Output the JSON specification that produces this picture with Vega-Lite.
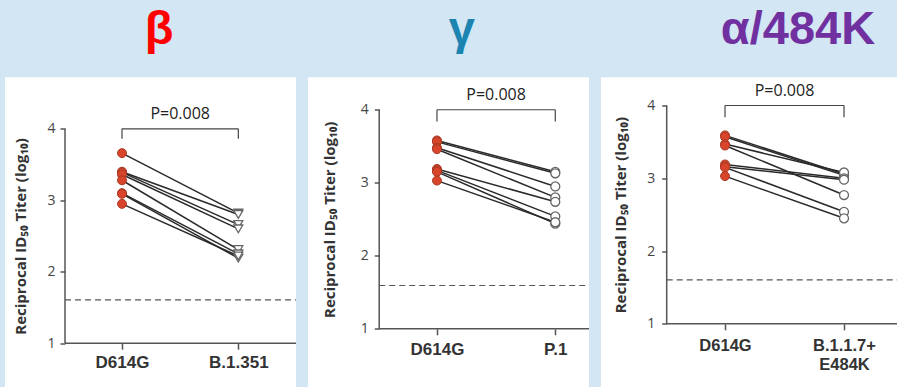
{
  "$schema": "https://vega.github.io/schema/vega-lite/v6.json",
  "background": "#D2E6F4",
  "padding": {"left": 5, "top": 5.5, "right": 0, "bottom": 0},
  "spacing": 11,
  "datasets": {
    "pts": [
      {"panel": "beta", "donor": 1, "strain": "D614G", "value": 3.66}, {"panel": "beta", "donor": 1, "strain": "B.1.351", "value": 2.82},
      {"panel": "beta", "donor": 2, "strain": "D614G", "value": 3.40}, {"panel": "beta", "donor": 2, "strain": "B.1.351", "value": 2.80},
      {"panel": "beta", "donor": 3, "strain": "D614G", "value": 3.39}, {"panel": "beta", "donor": 3, "strain": "B.1.351", "value": 2.66},
      {"panel": "beta", "donor": 4, "strain": "D614G", "value": 3.36}, {"panel": "beta", "donor": 4, "strain": "B.1.351", "value": 2.60},
      {"panel": "beta", "donor": 5, "strain": "D614G", "value": 3.28}, {"panel": "beta", "donor": 5, "strain": "B.1.351", "value": 2.31},
      {"panel": "beta", "donor": 6, "strain": "D614G", "value": 3.10}, {"panel": "beta", "donor": 6, "strain": "B.1.351", "value": 2.25},
      {"panel": "beta", "donor": 7, "strain": "D614G", "value": 3.09}, {"panel": "beta", "donor": 7, "strain": "B.1.351", "value": 2.19},
      {"panel": "beta", "donor": 8, "strain": "D614G", "value": 2.95}, {"panel": "beta", "donor": 8, "strain": "B.1.351", "value": 2.22},
      {"panel": "gamma", "donor": 1, "strain": "D614G", "value": 3.58}, {"panel": "gamma", "donor": 1, "strain": "P.1", "value": 3.15},
      {"panel": "gamma", "donor": 2, "strain": "D614G", "value": 3.56}, {"panel": "gamma", "donor": 2, "strain": "P.1", "value": 3.13},
      {"panel": "gamma", "donor": 3, "strain": "D614G", "value": 3.48}, {"panel": "gamma", "donor": 3, "strain": "P.1", "value": 2.95},
      {"panel": "gamma", "donor": 4, "strain": "D614G", "value": 3.46}, {"panel": "gamma", "donor": 4, "strain": "P.1", "value": 2.80},
      {"panel": "gamma", "donor": 5, "strain": "D614G", "value": 3.19}, {"panel": "gamma", "donor": 5, "strain": "P.1", "value": 2.74},
      {"panel": "gamma", "donor": 6, "strain": "D614G", "value": 3.17}, {"panel": "gamma", "donor": 6, "strain": "P.1", "value": 2.54},
      {"panel": "gamma", "donor": 7, "strain": "D614G", "value": 3.15}, {"panel": "gamma", "donor": 7, "strain": "P.1", "value": 2.44},
      {"panel": "gamma", "donor": 8, "strain": "D614G", "value": 3.03}, {"panel": "gamma", "donor": 8, "strain": "P.1", "value": 2.46},
      {"panel": "alpha", "donor": 1, "strain": "D614G", "value": 3.59}, {"panel": "alpha", "donor": 1, "strain": "B.1.1.7+E484K", "value": 3.06},
      {"panel": "alpha", "donor": 2, "strain": "D614G", "value": 3.57}, {"panel": "alpha", "donor": 2, "strain": "B.1.1.7+E484K", "value": 3.04},
      {"panel": "alpha", "donor": 3, "strain": "D614G", "value": 3.47}, {"panel": "alpha", "donor": 3, "strain": "B.1.1.7+E484K", "value": 3.08},
      {"panel": "alpha", "donor": 4, "strain": "D614G", "value": 3.45}, {"panel": "alpha", "donor": 4, "strain": "B.1.1.7+E484K", "value": 2.77},
      {"panel": "alpha", "donor": 5, "strain": "D614G", "value": 3.19}, {"panel": "alpha", "donor": 5, "strain": "B.1.1.7+E484K", "value": 3.00},
      {"panel": "alpha", "donor": 6, "strain": "D614G", "value": 3.16}, {"panel": "alpha", "donor": 6, "strain": "B.1.1.7+E484K", "value": 2.98},
      {"panel": "alpha", "donor": 7, "strain": "D614G", "value": 3.15}, {"panel": "alpha", "donor": 7, "strain": "B.1.1.7+E484K", "value": 2.54},
      {"panel": "alpha", "donor": 8, "strain": "D614G", "value": 3.03}, {"panel": "alpha", "donor": 8, "strain": "B.1.1.7+E484K", "value": 2.45}
    ]
  },
  "config": {
    "view": {"fill": "white", "stroke": null},
    "axis": {"grid": false}
  },
  "hconcat": [
    {
      "width": 291, "height": 310,
      "data": {"name": "pts"},
      "layer": [
        {"data": {"values": [{}]}, "mark": {"type": "rect", "color": "white"},
         "encoding": {"x": {"datum": -1.006, "type": "quantitative", "scale": {"domain": [-1.006, 1.496], "nice": false, "zero": false}}, "x2": {"datum": 1.496},
                      "y": {"datum": 0.38, "type": "quantitative", "scale": {"domain": [0.38, 4.718], "nice": false, "zero": false}}, "y2": {"datum": 4.718}}},
        {"data": {"values": [{}]}, "mark": {"type": "rule", "strokeDash": [6, 4], "color": "#555", "strokeWidth": 1.2},
         "encoding": {"x": {"datum": -0.49, "type": "quantitative", "scale": {"domain": [-1.006, 1.496], "nice": false, "zero": false}}, "x2": {"datum": 1.496},
                      "y": {"datum": 1.607, "type": "quantitative", "scale": {"domain": [0.38, 4.718], "nice": false, "zero": false}}}},
        {"data": {"values": [{}]}, "mark": {"type": "rule", "color": "#555", "strokeWidth": 1.5},
         "encoding": {"x": {"datum": -0.49, "type": "quantitative", "scale": {"domain": [-1.006, 1.496], "nice": false, "zero": false}}, "x2": {"datum": 1.496},
                      "y": {"datum": 1, "type": "quantitative", "scale": {"domain": [0.38, 4.718], "nice": false, "zero": false}}}},
        {"data": {"values": [{}]}, "mark": {"type": "rule", "color": "#555", "strokeWidth": 1.5},
         "encoding": {"x": {"datum": -0.49, "type": "quantitative", "scale": {"domain": [-1.006, 1.496], "nice": false, "zero": false}},
                      "y": {"datum": 1, "type": "quantitative", "scale": {"domain": [0.38, 4.718], "nice": false, "zero": false}}, "y2": {"datum": 4}}},
        {"data": {"values": [{}]}, "mark": {"type": "rule", "color": "#444", "strokeWidth": 1.2},
         "encoding": {"x": {"datum": 0, "type": "quantitative", "scale": {"domain": [-1.006, 1.496], "nice": false, "zero": false}}, "x2": {"datum": 1},
                      "y": {"datum": 4, "type": "quantitative", "scale": {"domain": [0.38, 4.718], "nice": false, "zero": false}}}},
        {"data": {"values": [{}]}, "mark": {"type": "rule", "color": "#444", "strokeWidth": 1.2},
         "encoding": {"x": {"datum": 0, "type": "quantitative", "scale": {"domain": [-1.006, 1.496], "nice": false, "zero": false}},
                      "y": {"datum": 3.86, "type": "quantitative", "scale": {"domain": [0.38, 4.718], "nice": false, "zero": false}}, "y2": {"datum": 4}}},
        {"data": {"values": [{}]}, "mark": {"type": "rule", "color": "#444", "strokeWidth": 1.2},
         "encoding": {"x": {"datum": 1, "type": "quantitative", "scale": {"domain": [-1.006, 1.496], "nice": false, "zero": false}},
                      "y": {"datum": 3.86, "type": "quantitative", "scale": {"domain": [0.38, 4.718], "nice": false, "zero": false}}, "y2": {"datum": 4}}},
        {"data": {"values": [{}]}, "mark": {"type": "text", "text": "P=0.008", "baseline": "alphabetic", "fontSize": 16, "font": "Open Sans", "color": "#222"},
         "encoding": {"x": {"datum": 0.5, "type": "quantitative", "scale": {"domain": [-1.006, 1.496], "nice": false, "zero": false}},
                      "y": {"datum": 4.14, "type": "quantitative", "scale": {"domain": [0.38, 4.718], "nice": false, "zero": false}}}},
        {"data": {"values": [{}]}, "mark": {"type": "text", "text": "β", "baseline": "alphabetic", "fontSize": 47, "fontWeight": "bold", "font": "Liberation Sans", "color": "#FF0000"},
         "encoding": {"x": {"datum": 0.318, "type": "quantitative", "scale": {"domain": [-1.006, 1.496], "nice": false, "zero": false}},
                      "y": {"datum": 5.187, "type": "quantitative", "scale": {"domain": [0.38, 4.718], "nice": false, "zero": false}}}},
        {"transform": [{"filter": "datum.panel === 'beta'"}, {"calculate": "datum.strain === 'D614G' ? 0 : 1", "as": "pos"}],
         "mark": {"type": "line", "color": "#2a2a2a", "strokeWidth": 1.5},
         "encoding": {
           "x": {"field": "pos", "type": "quantitative", "scale": {"domain": [-1.006, 1.496], "nice": false, "zero": false},
                 "axis": {"zindex": 2, "values": [0, 1], "domain": false, "offset": -44.3, "tickSize": 6, "tickColor": "#555", "tickWidth": 1.5, "labelExpr": "datum.value == 0 ? 'D614G' : 'B.1.351'", "labelFontSize": 17, "labelFontWeight": "bold", "labelFont": "Liberation Sans", "labelColor": "#333", "labelPadding": 5, "labelFlush": false, "labelOverlap": false, "title": null}},
           "y": {"field": "value", "type": "quantitative", "scale": {"domain": [0.38, 4.718], "nice": false, "zero": false},
                 "axis": {"zindex": 2, "values": [1, 2, 3, 4], "format": "d", "domain": false, "offset": -60, "tickSize": 5, "tickColor": "#555", "tickWidth": 1.5, "labelPadding": 5, "labelFontSize": 14, "labelColor": "#444", "labelFont": "Open Sans", "labelFlush": false,
                          "title": "Reciprocal ID₅₀ Titer (log₁₀)", "titleX": -45, "titleY": 158.5, "titleAngle": 270, "titleBaseline": "middle", "titleAlign": "center", "titleFontSize": 15, "titleFont": "Open Sans", "titleFontWeight": "bold", "titleColor": "#333"}},
           "detail": {"field": "donor"}}},
        {"transform": [{"filter": "datum.panel === 'beta' && datum.strain === 'D614G'"}, {"calculate": "0", "as": "pos"}],
         "mark": {"type": "point", "shape": "circle", "filled": true, "fill": "#D9452B", "stroke": "#A83A25", "strokeWidth": 1, "size": 80, "opacity": 1},
         "encoding": {"x": {"field": "pos", "type": "quantitative"}, "y": {"field": "value", "type": "quantitative"}}},
        {"transform": [{"filter": "datum.panel === 'beta' && datum.strain !== 'D614G'"}, {"calculate": "1", "as": "pos"}],
         "mark": {"type": "point", "shape": "triangle-down", "filled": false, "fill": "white", "fillOpacity": 1, "stroke": "#666", "strokeWidth": 1.3, "size": 80, "opacity": 1},
         "encoding": {"x": {"field": "pos", "type": "quantitative"}, "y": {"field": "value", "type": "quantitative"}}}
      ]
    },
    {
      "width": 281, "height": 310,
      "data": {"name": "pts"},
      "layer": [
        {"data": {"values": [{}]}, "mark": {"type": "rect", "color": "white"},
         "encoding": {"x": {"datum": -1.09, "type": "quantitative", "scale": {"domain": [-1.09, 1.285], "nice": false, "zero": false}}, "x2": {"datum": 1.285},
                      "y": {"datum": 0.196, "type": "quantitative", "scale": {"domain": [0.196, 4.442], "nice": false, "zero": false}}, "y2": {"datum": 4.442}}},
        {"data": {"values": [{}]}, "mark": {"type": "rule", "strokeDash": [6, 4], "color": "#555", "strokeWidth": 1.2},
         "encoding": {"x": {"datum": -0.488, "type": "quantitative", "scale": {"domain": [-1.09, 1.285], "nice": false, "zero": false}}, "x2": {"datum": 1.285},
                      "y": {"datum": 1.593, "type": "quantitative", "scale": {"domain": [0.196, 4.442], "nice": false, "zero": false}}}},
        {"data": {"values": [{}]}, "mark": {"type": "rule", "color": "#555", "strokeWidth": 1.5},
         "encoding": {"x": {"datum": -0.488, "type": "quantitative", "scale": {"domain": [-1.09, 1.285], "nice": false, "zero": false}}, "x2": {"datum": 1.285},
                      "y": {"datum": 1, "type": "quantitative", "scale": {"domain": [0.196, 4.442], "nice": false, "zero": false}}}},
        {"data": {"values": [{}]}, "mark": {"type": "rule", "color": "#555", "strokeWidth": 1.5},
         "encoding": {"x": {"datum": -0.488, "type": "quantitative", "scale": {"domain": [-1.09, 1.285], "nice": false, "zero": false}},
                      "y": {"datum": 1, "type": "quantitative", "scale": {"domain": [0.196, 4.442], "nice": false, "zero": false}}, "y2": {"datum": 4}}},
        {"data": {"values": [{}]}, "mark": {"type": "rule", "color": "#444", "strokeWidth": 1.2},
         "encoding": {"x": {"datum": 0, "type": "quantitative", "scale": {"domain": [-1.09, 1.285], "nice": false, "zero": false}}, "x2": {"datum": 1},
                      "y": {"datum": 4, "type": "quantitative", "scale": {"domain": [0.196, 4.442], "nice": false, "zero": false}}}},
        {"data": {"values": [{}]}, "mark": {"type": "rule", "color": "#444", "strokeWidth": 1.2},
         "encoding": {"x": {"datum": 0, "type": "quantitative", "scale": {"domain": [-1.09, 1.285], "nice": false, "zero": false}},
                      "y": {"datum": 3.84, "type": "quantitative", "scale": {"domain": [0.196, 4.442], "nice": false, "zero": false}}, "y2": {"datum": 4}}},
        {"data": {"values": [{}]}, "mark": {"type": "rule", "color": "#444", "strokeWidth": 1.2},
         "encoding": {"x": {"datum": 1, "type": "quantitative", "scale": {"domain": [-1.09, 1.285], "nice": false, "zero": false}},
                      "y": {"datum": 3.84, "type": "quantitative", "scale": {"domain": [0.196, 4.442], "nice": false, "zero": false}}, "y2": {"datum": 4}}},
        {"data": {"values": [{}]}, "mark": {"type": "text", "text": "P=0.008", "baseline": "alphabetic", "fontSize": 16, "font": "Open Sans", "color": "#222"},
         "encoding": {"x": {"datum": 0.5, "type": "quantitative", "scale": {"domain": [-1.09, 1.285], "nice": false, "zero": false}},
                      "y": {"datum": 4.137, "type": "quantitative", "scale": {"domain": [0.196, 4.442], "nice": false, "zero": false}}}},
        {"data": {"values": [{}]}, "mark": {"type": "text", "text": "γ", "baseline": "alphabetic", "fontSize": 47, "fontWeight": "bold", "font": "Liberation Sans", "color": "#1B84B1"},
         "encoding": {"x": {"datum": 0.211, "type": "quantitative", "scale": {"domain": [-1.09, 1.285], "nice": false, "zero": false}},
                      "y": {"datum": 4.901, "type": "quantitative", "scale": {"domain": [0.196, 4.442], "nice": false, "zero": false}}}},
        {"transform": [{"filter": "datum.panel === 'gamma'"}, {"calculate": "datum.strain === 'D614G' ? 0 : 1", "as": "pos"}],
         "mark": {"type": "line", "color": "#2a2a2a", "strokeWidth": 1.5},
         "encoding": {
           "x": {"field": "pos", "type": "quantitative", "scale": {"domain": [-1.09, 1.285], "nice": false, "zero": false},
                 "axis": {"zindex": 2, "values": [0, 1], "domain": false, "offset": -58.7, "tickSize": 6, "tickColor": "#555", "tickWidth": 1.5, "labelExpr": "datum.value == 0 ? 'D614G' : 'P.1'", "labelFontSize": 17, "labelFontWeight": "bold", "labelFont": "Liberation Sans", "labelColor": "#333", "labelPadding": 7, "labelFlush": false, "labelOverlap": false, "title": null}},
           "y": {"field": "value", "type": "quantitative", "scale": {"domain": [0.196, 4.442], "nice": false, "zero": false},
                 "axis": {"zindex": 2, "values": [1, 2, 3, 4], "format": "d", "domain": false, "offset": -71.3, "tickSize": 5, "tickColor": "#555", "tickWidth": 1.5, "labelPadding": 6, "labelFontSize": 14, "labelColor": "#444", "labelFont": "Open Sans", "labelFlush": false,
                          "title": "Reciprocal ID₅₀ Titer (log₁₀)", "titleX": -49.5, "titleY": 141.8, "titleAngle": 270, "titleBaseline": "middle", "titleAlign": "center", "titleFontSize": 15, "titleFont": "Open Sans", "titleFontWeight": "bold", "titleColor": "#333"}},
           "detail": {"field": "donor"}}},
        {"transform": [{"filter": "datum.panel === 'gamma' && datum.strain === 'D614G'"}, {"calculate": "0", "as": "pos"}],
         "mark": {"type": "point", "shape": "circle", "filled": true, "fill": "#D9452B", "stroke": "#A83A25", "strokeWidth": 1, "size": 80, "opacity": 1},
         "encoding": {"x": {"field": "pos", "type": "quantitative"}, "y": {"field": "value", "type": "quantitative"}}},
        {"transform": [{"filter": "datum.panel === 'gamma' && datum.strain !== 'D614G'"}, {"calculate": "1", "as": "pos"}],
         "mark": {"type": "point", "shape": "circle", "filled": false, "fill": "white", "fillOpacity": 1, "stroke": "#666", "strokeWidth": 1.3, "size": 80, "opacity": 1},
         "encoding": {"x": {"field": "pos", "type": "quantitative"}, "y": {"field": "value", "type": "quantitative"}}}
      ]
    },
    {
      "width": 298, "height": 310,
      "data": {"name": "pts"},
      "layer": [
        {"data": {"values": [{}]}, "mark": {"type": "rect", "color": "white"},
         "encoding": {"x": {"datum": -1.042, "type": "quantitative", "scale": {"domain": [-1.042, 1.462], "nice": false, "zero": false}}, "x2": {"datum": 1.462},
                      "y": {"datum": 0.125, "type": "quantitative", "scale": {"domain": [0.125, 4.385], "nice": false, "zero": false}}, "y2": {"datum": 4.385}}},
        {"data": {"values": [{}]}, "mark": {"type": "rule", "strokeDash": [6, 4], "color": "#555", "strokeWidth": 1.2},
         "encoding": {"x": {"datum": -0.49, "type": "quantitative", "scale": {"domain": [-1.042, 1.462], "nice": false, "zero": false}}, "x2": {"datum": 1.462},
                      "y": {"datum": 1.605, "type": "quantitative", "scale": {"domain": [0.125, 4.385], "nice": false, "zero": false}}}},
        {"data": {"values": [{}]}, "mark": {"type": "rule", "color": "#555", "strokeWidth": 1.5},
         "encoding": {"x": {"datum": -0.49, "type": "quantitative", "scale": {"domain": [-1.042, 1.462], "nice": false, "zero": false}}, "x2": {"datum": 1.462},
                      "y": {"datum": 1, "type": "quantitative", "scale": {"domain": [0.125, 4.385], "nice": false, "zero": false}}}},
        {"data": {"values": [{}]}, "mark": {"type": "rule", "color": "#555", "strokeWidth": 1.5},
         "encoding": {"x": {"datum": -0.49, "type": "quantitative", "scale": {"domain": [-1.042, 1.462], "nice": false, "zero": false}},
                      "y": {"datum": 1, "type": "quantitative", "scale": {"domain": [0.125, 4.385], "nice": false, "zero": false}}, "y2": {"datum": 4}}},
        {"data": {"values": [{}]}, "mark": {"type": "rule", "color": "#444", "strokeWidth": 1.2},
         "encoding": {"x": {"datum": 0, "type": "quantitative", "scale": {"domain": [-1.042, 1.462], "nice": false, "zero": false}}, "x2": {"datum": 1},
                      "y": {"datum": 4, "type": "quantitative", "scale": {"domain": [0.125, 4.385], "nice": false, "zero": false}}}},
        {"data": {"values": [{}]}, "mark": {"type": "rule", "color": "#444", "strokeWidth": 1.2},
         "encoding": {"x": {"datum": 0, "type": "quantitative", "scale": {"domain": [-1.042, 1.462], "nice": false, "zero": false}},
                      "y": {"datum": 3.84, "type": "quantitative", "scale": {"domain": [0.125, 4.385], "nice": false, "zero": false}}, "y2": {"datum": 4}}},
        {"data": {"values": [{}]}, "mark": {"type": "rule", "color": "#444", "strokeWidth": 1.2},
         "encoding": {"x": {"datum": 1, "type": "quantitative", "scale": {"domain": [-1.042, 1.462], "nice": false, "zero": false}},
                      "y": {"datum": 3.84, "type": "quantitative", "scale": {"domain": [0.125, 4.385], "nice": false, "zero": false}}, "y2": {"datum": 4}}},
        {"data": {"values": [{}]}, "mark": {"type": "text", "text": "P=0.008", "baseline": "alphabetic", "fontSize": 16, "font": "Open Sans", "color": "#222"},
         "encoding": {"x": {"datum": 0.5, "type": "quantitative", "scale": {"domain": [-1.042, 1.462], "nice": false, "zero": false}},
                      "y": {"datum": 4.137, "type": "quantitative", "scale": {"domain": [0.125, 4.385], "nice": false, "zero": false}}}},
        {"data": {"values": [{}]}, "mark": {"type": "text", "text": "α/484K", "baseline": "alphabetic", "fontSize": 47, "fontWeight": "bold", "font": "Liberation Sans", "color": "#7030A0"},
         "encoding": {"x": {"datum": 0.613, "type": "quantitative", "scale": {"domain": [-1.042, 1.462], "nice": false, "zero": false}},
                      "y": {"datum": 4.845, "type": "quantitative", "scale": {"domain": [0.125, 4.385], "nice": false, "zero": false}}}},
        {"transform": [{"filter": "datum.panel === 'alpha'"}, {"calculate": "datum.strain === 'D614G' ? 0 : 1", "as": "pos"}],
         "mark": {"type": "line", "color": "#2a2a2a", "strokeWidth": 1.5},
         "encoding": {
           "x": {"field": "pos", "type": "quantitative", "scale": {"domain": [-1.042, 1.462], "nice": false, "zero": false},
                 "axis": {"zindex": 2, "values": [0, 1], "domain": false, "offset": -63.7, "tickSize": 6, "tickColor": "#555", "tickWidth": 1.5, "labelExpr": "datum.value == 0 ? 'D614G' : ['B.1.1.7+', 'E484K']", "labelFontSize": 16.5, "labelFontWeight": "bold", "labelFont": "Liberation Sans", "labelColor": "#333", "labelPadding": 8, "labelLineHeight": 18.5, "labelFlush": false, "labelOverlap": false, "title": null}},
           "y": {"field": "value", "type": "quantitative", "scale": {"domain": [0.125, 4.385], "nice": false, "zero": false},
                 "axis": {"zindex": 2, "values": [1, 2, 3, 4], "format": "d", "domain": false, "offset": -65.7, "tickSize": 5, "tickColor": "#555", "tickWidth": 1.5, "labelPadding": 7, "labelFontSize": 14, "labelColor": "#444", "labelFont": "Open Sans", "labelFlush": false,
                          "title": "Reciprocal ID₅₀ Titer (log₁₀)", "titleX": -46, "titleY": 137.1, "titleAngle": 270, "titleBaseline": "middle", "titleAlign": "center", "titleFontSize": 15, "titleFont": "Open Sans", "titleFontWeight": "bold", "titleColor": "#333"}},
           "detail": {"field": "donor"}}},
        {"transform": [{"filter": "datum.panel === 'alpha' && datum.strain === 'D614G'"}, {"calculate": "0", "as": "pos"}],
         "mark": {"type": "point", "shape": "circle", "filled": true, "fill": "#D9452B", "stroke": "#A83A25", "strokeWidth": 1, "size": 80, "opacity": 1},
         "encoding": {"x": {"field": "pos", "type": "quantitative"}, "y": {"field": "value", "type": "quantitative"}}},
        {"transform": [{"filter": "datum.panel === 'alpha' && datum.strain !== 'D614G'"}, {"calculate": "1", "as": "pos"}],
         "mark": {"type": "point", "shape": "circle", "filled": false, "fill": "white", "fillOpacity": 1, "stroke": "#666", "strokeWidth": 1.3, "size": 80, "opacity": 1},
         "encoding": {"x": {"field": "pos", "type": "quantitative"}, "y": {"field": "value", "type": "quantitative"}}}
      ]
    }
  ]
}
